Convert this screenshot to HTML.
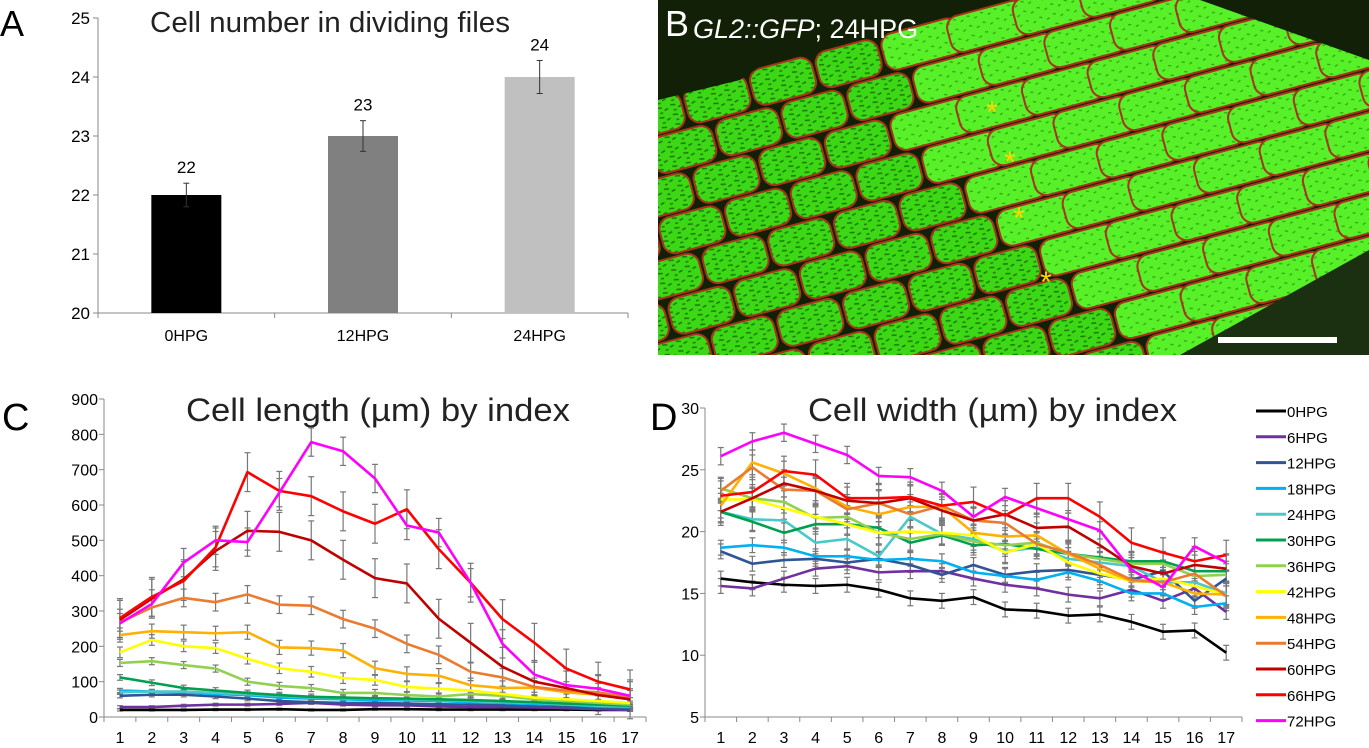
<!DOCTYPE html>
<html><head><meta charset="utf-8"><style>
html,body{margin:0;padding:0;background:#fff;}
body{width:1369px;height:743px;overflow:hidden;position:relative;font-family:"Liberation Sans",Arial,sans-serif;}
svg text{font-family:"Liberation Sans",Arial,sans-serif;}
</style></head><body>
<svg id="fig" width="1369" height="743" xmlns="http://www.w3.org/2000/svg">
<defs>
<pattern id="speck" width="14" height="10" patternUnits="userSpaceOnUse">
<rect width="14" height="10" fill="#3cd816"/>
<path d="M1 2 l5 1 M8 6 l4 -1 M3 8 l3 0" stroke="#1d7a08" stroke-width="1.5"/>
</pattern>
<pattern id="speckB" width="14" height="10" patternUnits="userSpaceOnUse">
<rect width="14" height="10" fill="#58f028"/>
<path d="M2 3 l3 1 M9 7 l3 -1" stroke="#2fa812" stroke-width="1.3"/>
</pattern>
<clipPath id="cp"><rect x="658" y="0" width="711" height="355"/></clipPath>
</defs>
<g id="pa"></g>
<g id="pb"></g>
<g id="pc"></g>
<g id="pd"></g>
</svg>
<script>
const NS='http://www.w3.org/2000/svg';
function mk(p,tag,at,txt){const e=document.createElementNS(NS,tag);for(const k in at)e.setAttribute(k,at[k]);if(txt!==undefined)e.textContent=txt;p.appendChild(e);return e;}

// ---------- Panel A data ----------
const barCats=['0HPG','12HPG','24HPG'];
const barVals=[22,23,24];
const barErr=[0.2,0.26,0.28];
const barColors=['#000000','#808080','#c0c0c0'];
const barTicks=[20,21,22,23,24,25];

// ---------- Panel C/D data ----------
const seriesNames=['0HPG','6HPG','12HPG','18HPG','24HPG','30HPG','36HPG','42HPG','48HPG','54HPG','60HPG','66HPG','72HPG'];
const seriesColors=['#000000','#7030a0','#2f5597','#00b0f0','#4bc8c8','#00a050','#92d050','#ffff00','#ffb000','#e97c30','#c00000','#ff0000','#ff00ff'];
const indexCats=[1,2,3,4,5,6,7,8,9,10,11,12,13,14,15,16,17];
const lenTicks=[0,100,200,300,400,500,600,700,800,900];
const widTicks=[5,10,15,20,25,30];
const len0=[20,20,20,21,21,22,20,20,22,22,21,21,21,21,21,20,20];
const len6=[28,28,32,35,35,37,40,35,33,33,30,28,28,27,25,22,20];
const len12=[60,63,63,58,52,45,42,40,40,38,36,35,33,30,28,25,22];
const len18=[75,72,70,65,62,55,52,50,48,47,45,42,40,37,35,30,28];
const len24=[70,72,72,68,65,60,55,53,52,50,48,45,42,40,36,32,30];
const len30=[112,97,82,75,68,62,57,55,53,52,50,48,45,42,38,35,32];
const len36=[153,158,147,137,100,88,82,68,68,62,58,65,60,50,45,40,35];
const len42=[183,218,200,195,165,138,128,110,105,85,80,75,65,55,50,45,40];
const len48=[232,243,240,237,240,197,195,188,138,122,117,90,82,83,70,63,55];
const len54=[268,310,337,325,347,318,315,277,250,207,176,128,112,85,75,70,55];
const len60=[275,335,390,470,527,524,500,445,393,378,278,210,142,100,82,62,50];
const len66=[280,340,385,480,693,640,625,582,547,588,475,380,277,210,137,100,78];
const len72=[265,320,437,500,495,635,778,752,675,542,522,380,207,120,90,80,60];
const lenData=[len0,len6,len12,len18,len24,len30,len36,len42,len48,len54,len60,len66,len72];
const lenErr=[3,4,6,6,6,8,10,15,20,25,55,55,40];

const wid0=[16.2,15.9,15.7,15.6,15.7,15.3,14.6,14.4,14.7,13.7,13.6,13.2,13.3,12.7,11.9,12.0,10.2];
const wid6=[15.6,15.4,16.2,17.0,17.2,16.7,16.8,16.8,16.2,15.7,15.4,14.9,14.6,15.3,14.4,15.4,13.5];
const wid12=[18.4,17.4,17.7,17.8,17.5,17.8,17.3,16.5,17.3,16.5,16.8,16.9,16.5,16.1,16.8,14.4,16.2];
const wid18=[18.7,18.9,18.7,18.0,18.0,17.7,17.8,17.6,16.7,16.4,16.1,16.7,16.0,15.0,15.0,13.9,14.2];
const wid24=[21.6,21.0,20.9,19.1,19.4,18.0,21.2,19.8,19.4,18.4,18.7,17.8,17.5,17.2,15.9,15.9,15.0];
const wid30=[21.6,20.8,19.9,20.6,20.6,20.3,19.1,19.7,18.9,19.0,18.6,18.2,17.9,17.6,17.6,16.8,16.8];
const wid36=[23.5,22.7,22.4,21.1,21.2,19.9,19.4,19.8,19.2,18.9,19.1,18.2,17.8,17.4,17.4,16.4,16.5];
const wid42=[22.6,22.6,21.9,21.2,20.6,19.9,20.0,19.9,19.7,18.3,19.0,17.5,16.6,16.0,16.2,15.6,14.9];
const wid48=[22.1,25.6,24.7,23.5,22.0,21.4,22.0,22.0,19.9,19.6,19.7,18.2,17.0,16.0,15.9,15.0,14.9];
const wid54=[23.3,25.2,23.4,23.3,21.8,22.3,21.4,22.1,20.9,20.7,19.0,18.3,17.3,16.1,15.9,16.6,14.8];
const wid60=[21.6,22.7,23.9,23.3,22.5,22.3,22.7,21.7,20.9,21.4,20.3,20.4,18.9,17.2,16.6,17.3,17.0];
const wid66=[22.9,23.2,24.9,24.6,22.7,22.7,22.8,22.1,22.4,21.3,22.7,22.7,21.2,19.1,18.3,17.6,18.1];
const wid72=[26.1,27.3,28.0,27.1,26.2,24.5,24.4,23.3,21.2,22.8,21.9,21.0,20.1,16.9,15.5,18.8,17.5];
const widData=[wid0,wid6,wid12,wid18,wid24,wid30,wid36,wid42,wid48,wid54,wid60,wid66,wid72];
const widErr=[0.6,0.6,0.6,0.6,0.9,0.8,0.9,0.9,1.0,1.0,1.1,1.2,0.7];

// ---------- Panel A ----------
(function(){
const g=document.getElementById('pa');
const y=v=>313-(v-20)*59, X0=98, X1=628;
const cx=i=>X0+(X1-X0)*(i+0.5)/barCats.length;
let t=mk(g,'text',{x:0,y:36,'font-size':36},'A');


t=mk(g,'text',{x:150,y:32,'font-size':29,textLength:360,lengthAdjust:'spacingAndGlyphs',fill:'#222'},'Cell number in dividing files');


mk(g,'line',{x1:X0,y1:y(25),x2:X0,y2:y(20),stroke:'#888'});
mk(g,'line',{x1:X0,y1:y(20),x2:X1,y2:y(20),stroke:'#888'});
barTicks.forEach(v=>{mk(g,'line',{x1:X0-5,y1:y(v),x2:X0,y2:y(v),stroke:'#888'});
 const l=mk(g,'text',{x:X0-8,y:y(v)+6,'font-size':17,'text-anchor':'end'},v);
 
 });
for(let i=0;i<=barCats.length;i++){const xx=X0+(X1-X0)*i/barCats.length;mk(g,'line',{x1:xx,y1:y(20),x2:xx,y2:y(20)+5,stroke:'#888'});}
barVals.forEach((v,i)=>{
 const r=mk(g,'rect',{x:cx(i)-35,y:y(v),width:70,height:y(20)-y(v),fill:barColors[i]});
 
 
 const e1=y(v+barErr[i]),e2=y(v-barErr[i]);
 mk(g,'line',{x1:cx(i),y1:e1,x2:cx(i),y2:e2,stroke:'#333'});
 mk(g,'line',{x1:cx(i)-3,y1:e1,x2:cx(i)+3,y2:e1,stroke:'#333'});
 mk(g,'line',{x1:cx(i)-3,y1:e2,x2:cx(i)+3,y2:e2,stroke:'#333'});
 const vl=mk(g,'text',{x:cx(i),y:e1-10,'font-size':17,'text-anchor':'middle'},v);
 
 
 const cl=mk(g,'text',{x:cx(i),y:y(20)+28,'font-size':16,'text-anchor':'middle'},barCats[i]);
 
 
});
})();

// ---------- Panel B (micrograph approximation) ----------
(function(){
const g=document.getElementById('pb');
mk(g,'rect',{x:658,y:0,width:711,height:355,fill:'#122008'});
const cells=mk(g,'g',{'clip-path':'url(#cp)'});
const rg=mk(cells,'g',{transform:'rotate(-15 1000 180)'});
for(let r=0;r<11;r++){
 for(let c=0;c<13;c++){
  const off=(r%2)*28;
  const x=580+c*68+off - r*6, yy=10+r*40;
  const bright = x > 860+ r*20;
  mk(rg,'rect',{x:x,y:yy,width:bright?80:64,height:37,rx:12,fill:bright?'url(#speckB)':'url(#speck)',stroke:'#a8321a','stroke-width':2});
 }
}
mk(cells,'polygon',{points:'658,0 860,0 740,80 658,100',fill:'#122008'});
mk(cells,'polygon',{points:'1200,0 1369,0 1369,60',fill:'#122008'});
mk(cells,'polygon',{points:'1180,355 1369,250 1369,355',fill:'#1a3010'});
let t=mk(g,'text',{x:665,y:36,'font-size':36,fill:'#fff'},'B');


t=mk(g,'text',{x:693,y:38,'font-size':27,fill:'#fff'});
mk(t,'tspan',{'font-style':'italic'},'GL2::GFP');mk(t,'tspan',{},'; 24HPG');


[[992,122],[1010,172],[1019,228],[1046,292]].forEach(p=>{const a=mk(g,'text',{x:p[0],y:p[1],'font-size':30,fill:'#ffd700','text-anchor':'middle'},'*');
 
 });
const sb=mk(g,'rect',{x:1218,y:337,width:119,height:6,fill:'#fff'});


})();

// ---------- Line chart helper ----------
function lineChart(g,opt){
 const {X0,X1,Y0,Y1,vmin,vmax,ticks,data,err,title,titleX,titleW,letter,letterX}=opt;
 const y=v=>Y0-(v-vmin)/(vmax-vmin)*(Y0-Y1);
 const n=indexCats.length, step=(X1-X0)/n;
 const x=i=>X0+step*(i+0.5);
 let t=mk(g,'text',{x:letterX,y:430,'font-size':38},letter);
 
 
 t=mk(g,'text',{x:titleX,y:421,'font-size':32,textLength:titleW,lengthAdjust:'spacingAndGlyphs',fill:'#222'},title);
 
 
 mk(g,'line',{x1:X0,y1:Y1,x2:X0,y2:Y0,stroke:'#888'});
 mk(g,'line',{x1:X0,y1:Y0,x2:X1,y2:Y0,stroke:'#888'});
 ticks.forEach(v=>{mk(g,'line',{x1:X0-5,y1:y(v),x2:X0,y2:y(v),stroke:'#888'});
  const l=mk(g,'text',{x:X0-6,y:y(v)+6,'font-size':16,'text-anchor':'end'},v);
  
  });
 for(let i=0;i<=n;i++)mk(g,'line',{x1:X0+step*i,y1:Y0,x2:X0+step*i,y2:Y0+5,stroke:'#888'});
 indexCats.forEach((c,i)=>{const l=mk(g,'text',{x:x(i),y:Y0+26,'font-size':16,'text-anchor':'middle'},c);
  
  });
 data.forEach((s,k)=>{
  const eg=mk(g,'g',{stroke:'#777','stroke-width':1.2});
  s.forEach((v,i)=>{const a=y(v+err[k]),b=y(v-err[k]);
   mk(eg,'line',{x1:x(i),y1:a,x2:x(i),y2:b});
   mk(eg,'line',{x1:x(i)-3,y1:a,x2:x(i)+3,y2:a});
   mk(eg,'line',{x1:x(i)-3,y1:b,x2:x(i)+3,y2:b});});
 });
 data.forEach((s,k)=>{
  const p=mk(g,'polyline',{points:s.map((v,i)=>x(i)+','+y(v)).join(' '),fill:'none',stroke:seriesColors[k],'stroke-width':2.6,'stroke-linejoin':'round'});
  
  
 });
}
lineChart(document.getElementById('pc'),{X0:104,X1:646,Y0:717,Y1:399,vmin:0,vmax:900,ticks:lenTicks,data:lenData,err:lenErr,title:'Cell length (µm) by index',titleX:186,titleW:384,letter:'C',letterX:2});
lineChart(document.getElementById('pd'),{X0:705,X1:1242,Y0:717,Y1:408,vmin:5,vmax:30,ticks:widTicks,data:widData,err:widErr,title:'Cell width (µm) by index',titleX:808,titleW:369,letter:'D',letterX:650});

// legend
(function(){
const g=document.getElementById('pd');
const lg=mk(g,'g',{});


seriesNames.forEach((s,k)=>{
 const yy=411+k*25.8;
 const e=mk(lg,'g',{});
 
 
 mk(e,'line',{x1:1256,y1:yy,x2:1286,y2:yy,stroke:seriesColors[k],'stroke-width':3});
 mk(e,'text',{x:1287,y:yy+6,'font-size':15},s);
});
})();
</script>
</body></html>
